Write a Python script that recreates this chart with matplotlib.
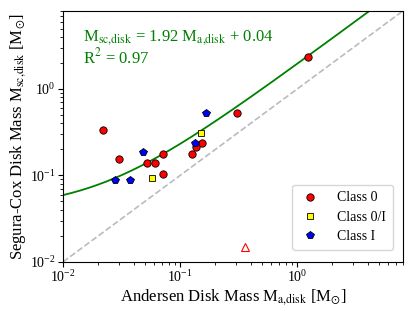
import matplotlib
matplotlib.use("Agg")
import matplotlib.pyplot as plt
import numpy as np

plt.rcParams['font.family'] = ['Liberation Serif', 'DejaVu Serif']
plt.rcParams['mathtext.fontset'] = 'stix'

class0_x = [0.022, 0.030, 0.052, 0.061, 0.072, 0.072, 0.127, 0.137, 0.153, 0.305, 1.24]
class0_y = [0.338, 0.153, 0.138, 0.138, 0.178, 0.104, 0.178, 0.213, 0.237, 0.522, 2.37]
class0i_x = [0.058, 0.150]
class0i_y = [0.093, 0.306]
class1_x = [0.028, 0.037, 0.048, 0.134, 0.167]
class1_y = [0.089, 0.089, 0.188, 0.237, 0.532]
upper_x = [0.355]
upper_y = [0.0148]
slope, intercept = 1.92, 0.04

fig = plt.figure(figsize=(4.15, 3.11), dpi=100)
ax = fig.add_axes([0.152, 0.158, 0.819, 0.807])

xx = np.logspace(-2, np.log10(8), 200)
ax.plot(xx, xx, ls='--', color='#bbbbbb', lw=1.2, zorder=1)
ax.plot(xx, slope * xx + intercept, color='green', lw=1.3, zorder=2)

ax.plot(class0_x, class0_y, 'o', color='red', mec='black', mew=0.6, ms=5.3, label='Class 0', zorder=3)
ax.plot(class0i_x, class0i_y, 's', color='yellow', mec='black', mew=0.6, ms=5, label='Class 0/I', zorder=3)
ax.plot(class1_x, class1_y, 'p', color='blue', mec='black', mew=0.6, ms=6, label='Class I', zorder=3)
ax.plot(upper_x, upper_y, '^', mfc='none', mec='red', mew=0.8, ms=6, zorder=3)

ax.set_xscale('log')
ax.set_yscale('log')
ax.set_xlim(0.01, 8)
ax.set_ylim(0.01, 8)

ax.set_xlabel(r'Andersen Disk Mass M$_{\mathrm{a{,}disk}}$ [M$_{\odot}$]', fontsize=12, labelpad=1)
ax.set_ylabel(r'Segura-Cox Disk Mass M$_{\mathrm{sc{,}disk}}$ [M$_{\odot}$]', fontsize=12, labelpad=1)
ax.tick_params(labelsize=10, pad=2)

ax.text(0.06, 0.93, r'M$_{\mathrm{sc{,}disk}}$ = 1.92 M$_{\mathrm{a{,}disk}}$ + 0.04' + '\n' + r'R$^2$ = 0.97',
        transform=ax.transAxes, color='green', fontsize=12, va='top', ha='left', linespacing=1.0)

ax.legend(loc='lower right', fontsize=10, handletextpad=1.1, handlelength=1.6, borderpad=0.5,
          labelspacing=0.45, bbox_to_anchor=(0.99, 0.02))

fig.savefig('out.png', dpi=100)
